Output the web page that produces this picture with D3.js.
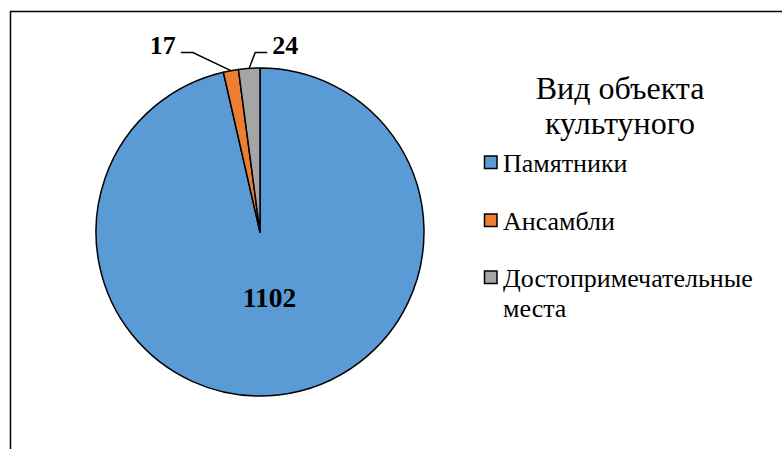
<!DOCTYPE html>
<html>
<head>
<meta charset="utf-8">
<script src="https://cdn.jsdelivr.net/npm/d3@7/dist/d3.min.js"></script>
<style>
  html, body { margin: 0; padding: 0; background: #fff; }
  svg { display: block; }
</style>
</head>
<body>
<svg id="chart" width="782" height="449"></svg>
<script>
const categories = ["Памятники", "Ансамбли", "Достопримечательные места"];
const values = [1102, 17, 24];
const colors = ["#5B9BD5", "#ED7D31", "#A5A5A5"];
const legendTitle = ["Вид объекта", "культуного"];
const legendLines = [["Памятники"], ["Ансамбли"], ["Достопримечательные", "места"]];

const FONT = '"Liberation Serif", "Times New Roman", serif';
const svg = d3.select("#chart");
const W = 782, H = 449;

svg.append("path")
  .attr("d", `M10.5,${H} L10.5,11.5 L${W},11.5`)
  .attr("fill", "none").attr("stroke", "#000").attr("stroke-width", 1.5);

const cx = 260, cy = 232, r = 164;
const g = svg.append("g").attr("transform", `translate(${cx},${cy})`);

const pie = d3.pie().sort(null).value(d => d)(values);
const arc = d3.arc().innerRadius(0).outerRadius(r);

g.selectAll("path.slice").data(pie).join("path")
  .attr("class", "slice")
  .attr("d", arc)
  .attr("fill", (d, i) => colors[i])
  .attr("stroke", "#000").attr("stroke-width", 1.5).attr("stroke-linejoin", "round");

{
  const d = pie[0];
  const a = (d.startAngle + d.endAngle) / 2;
  const dist = 66;
  const x = dist * Math.sin(a), y = -dist * Math.cos(a);
  g.append("text").attr("x", x + 2).attr("y", y + 9)
    .style("font-family", FONT)
    .attr("text-anchor", "middle").attr("font-weight", "bold").attr("font-size", 27.5)
    .text(values[0]);
}

const leaderCfg = [null, { dx: -38, side: -1 }, { dx: 6, side: 1 }];
const elbowY = -179.5;
[1, 2].forEach(i => {
  const d = pie[i];
  const a = (d.startAngle + d.endAngle) / 2;
  const px = r * Math.sin(a), py = -r * Math.cos(a);
  const cfg = leaderCfg[i];
  const ex = px + cfg.dx, ey = elbowY;
  const hx = ex + cfg.side * 12;
  g.append("path")
    .attr("d", `M${px},${py} L${ex},${ey} L${hx},${ey}`)
    .attr("fill", "none").attr("stroke", "#000").attr("stroke-width", 1.5);
  g.append("text")
    .style("font-family", FONT)
    .attr("x", hx + cfg.side * 5).attr("y", ey + 1)
    .attr("text-anchor", cfg.side < 0 ? "end" : "start")
    .attr("font-weight", "bold").attr("font-size", 26)
    .text(values[i]);
});

const lt = svg.append("g");
legendTitle.forEach((t, i) => {
  lt.append("text").attr("x", 620).attr("y", 98.5 + i * 35.5)
    .style("font-family", FONT)
    .attr("text-anchor", "middle").attr("font-size", 32).text(t);
});
const itemY = [172, 230, 287];
legendLines.forEach((lines, i) => {
  lt.append("rect").attr("x", 484.5).attr("y", itemY[i] - 16).attr("width", 12.5).attr("height", 12.5)
    .attr("fill", colors[i]).attr("stroke", "#000").attr("stroke-width", 1.5);
  lines.forEach((t, j) => {
    lt.append("text").attr("x", 503).attr("y", itemY[i] + j * 30)
      .style("font-family", FONT)
      .attr("font-size", 26).text(t);
  });
});
</script>
</body>
</html>
